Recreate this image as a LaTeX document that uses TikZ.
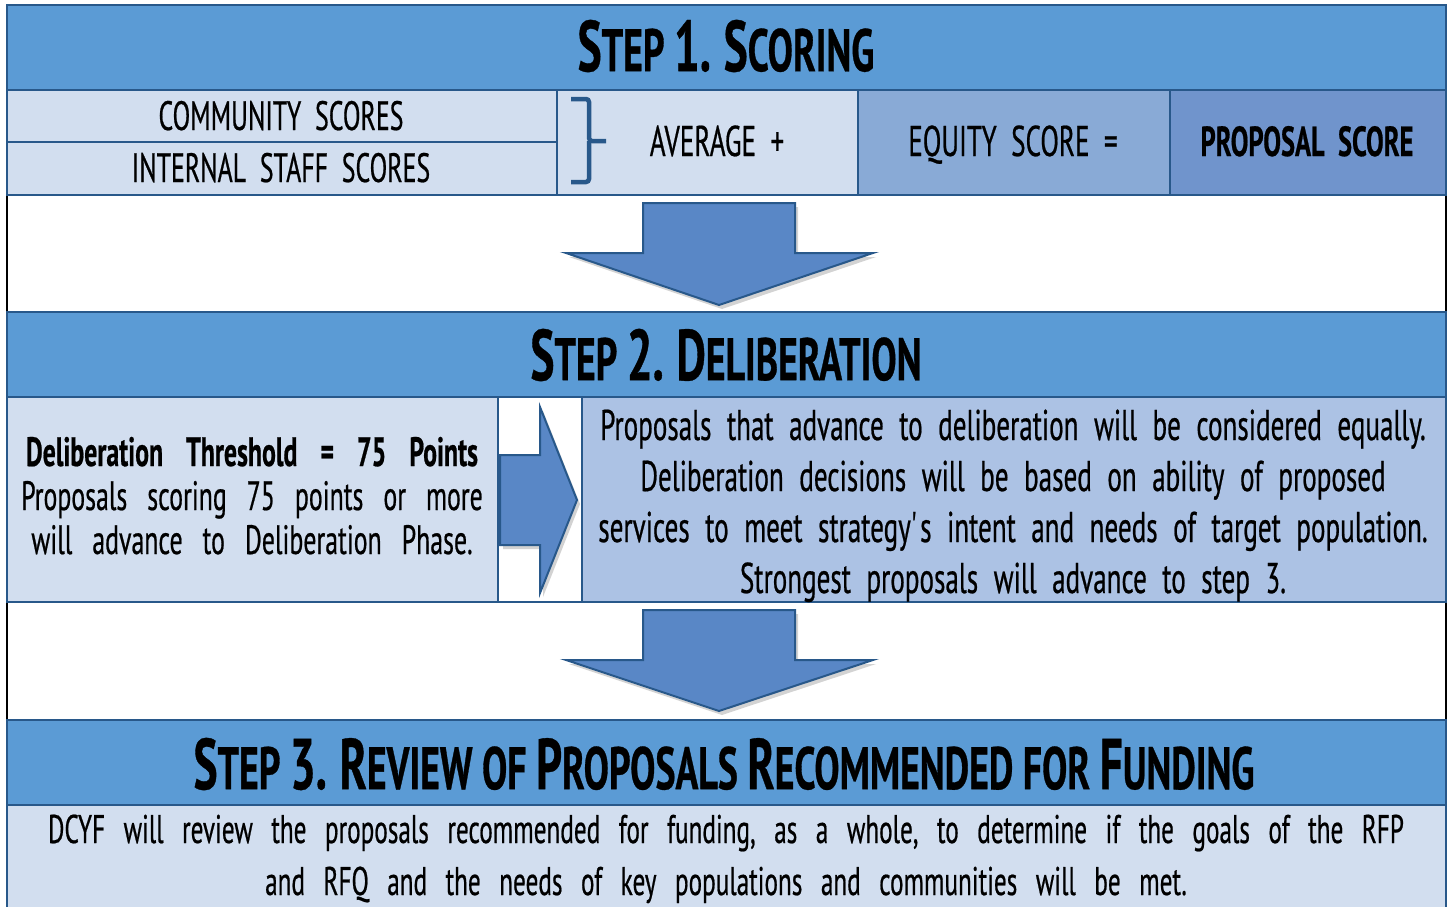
\documentclass[tikz,border=0pt]{standalone}
\usepackage{fontspec}
\setmainfont[FakeStretch=0.63, FakeBold=0.5]{PT Sans}
\usetikzlibrary{shadows}
\definecolor{hdr}{RGB}{91,155,213}
\definecolor{light}{RGB}{210,222,239}
\definecolor{equity}{RGB}{137,170,214}
\definecolor{prop}{RGB}{112,148,204}
\definecolor{midbox}{RGB}{172,194,228}
\definecolor{bord}{RGB}{40,88,138}
\definecolor{arrowfill}{RGB}{89,135,198}
\newcommand\bigc[1]{{\fontsize{72}{72}\selectfont #1}}
\newcommand\rightfont{\fontsize{43}{51}\selectfont\spaceskip15.5pt\relax}
\newcommand\leftfont{\fontsize{41}{44}\selectfont\spaceskip20pt\relax}
\newcommand\leftboldfont{\bfseries\fontsize{41}{44}\selectfont\spaceskip23pt\relax}
\newcommand\bottomfont{\fontsize{40}{51}\selectfont\spaceskip18.5pt\relax}
\begin{document}
\begin{tikzpicture}[x=1pt,y=-1pt,
  cell/.style={draw=bord, line width=2.5pt},
  hdrtext/.style={font=\bfseries\fontsize{60}{60}\selectfont, inner sep=0pt},
  celltext/.style={font=\fontsize{43}{51}\selectfont, inner sep=0pt, anchor=base},
  scoretext/.style={font=\fontsize{41}{51}\selectfont, inner sep=0pt, anchor=base},
  righttext/.style={font=\rightfont, inner sep=0pt, anchor=base},
  lefttext/.style={font=\leftfont, inner sep=0pt, anchor=base},
  leftbold/.style={font=\leftboldfont, inner sep=0pt, anchor=base},
  bottomtext/.style={font=\bottomfont, inner sep=0pt, anchor=base},
  bigarrow/.style={fill=arrowfill, draw=bord, line width=2pt, line join=miter,
    drop shadow={opacity=0.35, shadow xshift=3pt, shadow yshift=-4pt}},
]
\useasboundingbox (0,0) rectangle (1449,907);
\clip (0,0) rectangle (1449,907);
% white gaps side lines
\draw[black, line width=1.5pt] (7,195) -- (7,312) (1446,195) -- (1446,312);
\draw[black, line width=1.5pt] (7,602) -- (7,720) (1446,602) -- (1446,720);
% Step 1
\path[cell, fill=hdr] (7,5) rectangle (1446,90);
\node[hdrtext] (h1) at (726,46) {\bigc{S}TEP \bigc{1.} \bigc{S}CORING};
\path[cell, fill=light] (7,90) rectangle (557,142);
\path[cell, fill=light] (7,142) rectangle (557,195);
\path[cell, fill=light] (557,90) rectangle (858,195);
\path[cell, fill=equity] (858,90) rectangle (1170,195);
\path[cell, fill=prop] (1170,90) rectangle (1446,195);
\node[scoretext] (comm) at (281,130) {COMMUNITY \ SCORES};
\node[scoretext] (staff) at (281,182) {INTERNAL \ STAFF \ SCORES};
\draw[bord, line width=4.5pt, rounded corners=3pt] (571,99) -- (589,99) -- (589,141) -- (606,141);
\draw[bord, line width=4.5pt, rounded corners=3pt] (571,182) -- (589,182) -- (589,141);
\node[celltext] (avg) at (717,156) {AVERAGE \ +};
\node[celltext] (eq) at (1013,156) {EQUITY \ SCORE \ =};
\node[celltext, font=\bfseries\fontsize{42}{51}\selectfont] (ps) at (1307,156) {PROPOSAL \ SCORE};
% arrow 1
\path[bigarrow] (643,203) -- (795,203) -- (795,253) -- (873,253) -- (719,305) -- (566,253) -- (643,253) -- cycle;
% Step 2
\path[cell, fill=hdr] (7,312) rectangle (1446,397);
\node[hdrtext] (h2) at (726,355) {\bigc{S}TEP \bigc{2.} \bigc{D}ELIBERATION};
\path[cell, fill=light] (7,397) rectangle (498,602);
\path[cell, fill=white] (498,397) rectangle (582,602);
\path[cell, fill=midbox] (582,397) rectangle (1446,602);
\node[leftbold] (t1) at (252,466) {Deliberation Threshold = 75 Points};
\node[lefttext] (t2) at (252,510) {Proposals scoring 75 points or more};
\node[lefttext] (t3) at (252,554) {will advance to Deliberation Phase.};
\path[bigarrow] (500,455) -- (540,455) -- (540,407) -- (577,500) -- (540,593) -- (540,545) -- (500,545) -- cycle;
\node[righttext] (r1) at (1013,440) {Proposals that advance to deliberation will be considered equally.};
\node[righttext] (r2) at (1013,491) {Deliberation decisions will be based on ability of proposed};
\node[righttext] (r3) at (1013,542) {services to meet strategy\textquotesingle s intent and needs of target population.};
\node[righttext] (r4) at (1013,593) {Strongest proposals will advance to step 3.};
% arrow 2
\path[bigarrow] (643,610) -- (795,610) -- (795,660) -- (873,660) -- (719,711) -- (566,660) -- (643,660) -- cycle;
% Step 3
\path[cell, fill=hdr] (7,720) rectangle (1446,805);
\node[hdrtext] (h3) at (724,764) {\bigc{S}TEP \bigc{3.} \bigc{R}EVIEW OF \bigc{P}ROPOSALS \bigc{R}ECOMMENDED FOR \bigc{F}UNDING};
\path[cell, fill=light] (7,805) rectangle (1446,930);
\node[bottomtext] (b1) at (726,843) {DCYF will review the proposals recommended for funding, as a whole, to determine if the goals of the RFP};
\node[bottomtext] (b2) at (726,895) {and RFQ and the needs of key populations and communities will be met.};
\end{tikzpicture}
\end{document}
